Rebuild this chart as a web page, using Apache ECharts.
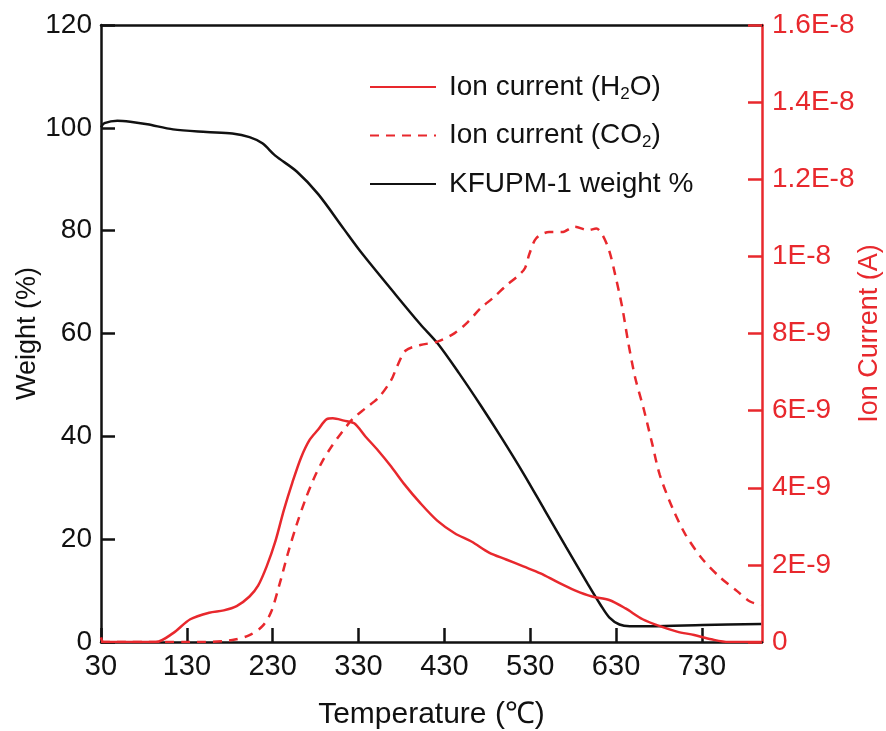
<!DOCTYPE html>
<html>
<head>
<meta charset="utf-8">
<script src="https://cdn.jsdelivr.net/npm/echarts@6/dist/echarts.min.js"></script>
<style>html,body{margin:0;padding:0;background:#fff}#c{width:886px;height:731px}</style>
</head>
<body>
<div id="c"></div>
<script>
// ---- Data ----
var weightT   = [30, 34, 49, 64, 84, 114, 153, 183, 203, 218, 233, 258, 283, 313, 333, 373, 402, 422, 447, 472, 497, 522, 547, 572, 597, 612, 622, 634, 646, 671, 731, 799];
var weightVal = [100.1, 100.9, 101.4, 101.2, 100.7, 99.7, 99.2, 98.9, 98.2, 97.0, 94.6, 91.5, 87.1, 80.3, 75.8, 67.6, 61.8, 58.1, 52.3, 46.1, 39.6, 32.8, 25.6, 18.4, 11.3, 7.2, 4.8, 3.4, 3.07, 3.07, 3.3, 3.5];

var h2oT   = [30, 33, 94, 114, 134, 156, 173, 188, 203, 213, 223, 233, 243, 253, 263, 273, 283, 293, 300, 313, 325, 338, 353, 368, 383, 402, 422, 442, 462, 482, 502, 522, 542, 562, 582, 602, 622, 641, 661, 681, 701, 721, 741, 761, 799];
var h2oVal = [0.12e-9, 0, 0, 0.23e-9, 0.59e-9, 0.76e-9, 0.82e-9, 0.93e-9, 1.18e-9, 1.46e-9, 1.96e-9, 2.60e-9, 3.42e-9, 4.14e-9, 4.78e-9, 5.24e-9, 5.51e-9, 5.78e-9, 5.80e-9, 5.74e-9, 5.67e-9, 5.33e-9, 4.96e-9, 4.55e-9, 4.10e-9, 3.60e-9, 3.14e-9, 2.82e-9, 2.60e-9, 2.32e-9, 2.14e-9, 1.96e-9, 1.78e-9, 1.55e-9, 1.34e-9, 1.18e-9, 1.09e-9, 0.87e-9, 0.59e-9, 0.41e-9, 0.27e-9, 0.18e-9, 0.07e-9, 0, 0];

var co2T   = [30, 148, 183, 203, 218, 228, 238, 248, 258, 268, 278, 288, 298, 310, 323, 338, 353, 368, 375, 385, 402, 422, 442, 457, 472, 487, 502, 517, 524, 529, 537, 552, 567, 582, 597, 607, 614, 622, 629, 637, 644, 652, 662, 672, 681, 696, 711, 731, 751, 771, 786, 799];
var co2Val = [0, 0, 0.05e-9, 0.18e-9, 0.41e-9, 0.77e-9, 1.50e-9, 2.32e-9, 3.05e-9, 3.69e-9, 4.24e-9, 4.69e-9, 5.05e-9, 5.42e-9, 5.78e-9, 6.06e-9, 6.33e-9, 6.79e-9, 7.15e-9, 7.56e-9, 7.70e-9, 7.79e-9, 8.01e-9, 8.29e-9, 8.65e-9, 8.93e-9, 9.24e-9, 9.52e-9, 9.70e-9, 10.06e-9, 10.47e-9, 10.63e-9, 10.63e-9, 10.77e-9, 10.68e-9, 10.72e-9, 10.56e-9, 10.15e-9, 9.52e-9, 8.70e-9, 7.79e-9, 6.88e-9, 6.06e-9, 5.15e-9, 4.33e-9, 3.46e-9, 2.78e-9, 2.14e-9, 1.68e-9, 1.32e-9, 1.05e-9, 0.96e-9];

var xTicks = [30, 130, 230, 330, 430, 530, 630, 730];
var seriesNames = ['Ion current (H2O)', 'Ion current (CO2)', 'KFUPM-1 weight %'];

function pairs(xs, ys) { return xs.map(function (x, i) { return [x, ys[i]]; }); }

var RED = '#e8282d';
var BLK = '#111111';
var FONT = 'Liberation Sans, Arial, sans-serif';

var chart = echarts.init(document.getElementById('c'));
chart.setOption({
  animation: false,
  backgroundColor: '#fff',
  grid: { left: 101, right: 124, top: 25, bottom: 89, outerBoundsMode: 'none', containLabel: false },
  legend: {
    data: seriesNames,
    orient: 'vertical',
    left: 364, top: 68,
    itemWidth: 66, itemHeight: 14, itemGap: 19,
    itemStyle: { opacity: 0 },
    textStyle: {
      fontFamily: FONT, fontSize: 28, color: '#111', padding: [0, 0, 0, 8],
      rich: { sub: { fontFamily: FONT, fontSize: 17, color: '#111', verticalAlign: 'bottom', padding: [14, 0, 0, 0] } }
    },
    formatter: function (n) {
      return n.replace('H2O', 'H{sub|2}O').replace('CO2', 'CO{sub|2}');
    }
  },
  xAxis: [{
    type: 'value', min: 30, max: 800, interval: 100,
    name: 'Temperature (\u2103)', nameLocation: 'middle', nameGap: 58,
    nameTextStyle: { fontFamily: FONT, fontSize: 30, color: '#111' },
    axisLine: { show: true, onZero: false, lineStyle: { color: BLK, width: 2.5 } },
    axisTick: { show: true, inside: true, length: 14, lineStyle: { color: BLK, width: 2.5 } },
    axisLabel: { fontFamily: FONT, fontSize: 29, color: '#111', margin: 10, showMaxLabel: false,
      formatter: function (v) { return xTicks.indexOf(Math.round(v)) >= 0 ? String(Math.round(v)) : ''; } },
    splitLine: { show: false }
  }, {
    type: 'value', min: 30, max: 800, position: 'top',
    axisLine: { show: true, onZero: false, lineStyle: { color: BLK, width: 2.5 } },
    axisTick: { show: false }, axisLabel: { show: false }, splitLine: { show: false }
  }],
  yAxis: [{
    type: 'value', min: 0, max: 120, interval: 20, position: 'left',
    name: 'Weight (%)', nameLocation: 'middle', nameGap: 60, nameRotate: 90, nameMoveOverlap: false,
    nameTextStyle: { fontFamily: FONT, fontSize: 27, color: '#111' },
    axisLine: { show: true, onZero: false, lineStyle: { color: BLK, width: 2.5 } },
    axisTick: { show: true, inside: true, length: 14, lineStyle: { color: BLK, width: 2.5 } },
    axisLabel: { fontFamily: FONT, fontSize: 28, color: '#111', margin: 9 },
    splitLine: { show: false }
  }, {
    type: 'value', min: 0, max: 16e-9, interval: 2e-9, position: 'right',
    name: 'Ion Current (A)', nameLocation: 'middle', nameGap: 94, nameRotate: 90, nameMoveOverlap: false,
    nameTextStyle: { fontFamily: FONT, fontSize: 27, color: RED },
    axisLine: { show: true, onZero: false, lineStyle: { color: RED, width: 2.5 } },
    axisTick: { show: true, inside: true, length: 14, lineStyle: { color: RED, width: 2.5 } },
    axisLabel: { fontFamily: FONT, fontSize: 28, color: RED, margin: 10,
      formatter: function (v) {
        var n = Math.round(v / 1e-9);
        if (n === 0) return '0';
        if (n >= 10) return (n / 10) + 'E-8';
        return n + 'E-9';
      } },
    splitLine: { show: false }
  }],
  series: [{
    name: seriesNames[2], type: 'line', xAxisIndex: 0, yAxisIndex: 0,
    data: pairs(weightT, weightVal), symbol: 'none', smooth: 0.3, z: 2,
    lineStyle: { color: BLK, width: 2.5 }, itemStyle: { color: BLK }
  }, {
    name: seriesNames[0], type: 'line', xAxisIndex: 0, yAxisIndex: 1,
    data: pairs(h2oT, h2oVal), symbol: 'none', smooth: 0.3, z: 3,
    lineStyle: { color: RED, width: 2.5 }, itemStyle: { color: RED }
  }, {
    name: seriesNames[1], type: 'line', xAxisIndex: 0, yAxisIndex: 1,
    data: pairs(co2T, co2Val), symbol: 'none', smooth: 0.3, z: 3,
    lineStyle: { color: RED, width: 2.5, type: [9, 7] }, itemStyle: { color: RED }
  }]
});
</script>
</body>
</html>
